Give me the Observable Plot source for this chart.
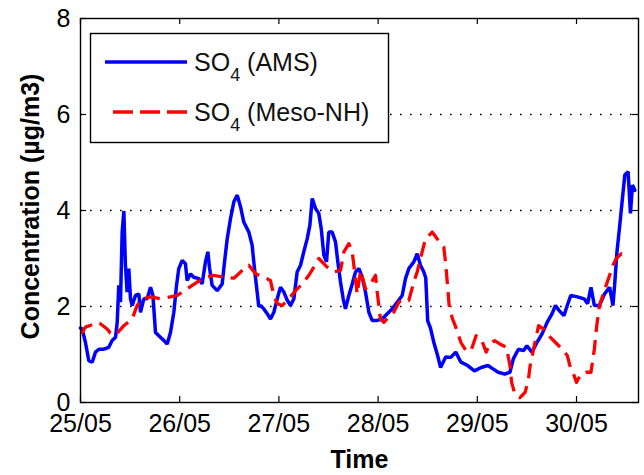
<!DOCTYPE html>
<html>
<head>
<meta charset="utf-8">
<script src="https://cdn.jsdelivr.net/npm/d3@7"></script>
<script src="https://cdn.jsdelivr.net/npm/@observablehq/plot@0.6"></script>
<style>
  html, body { margin: 0; padding: 0; background: white; }
  #wrap { position: relative; width: 644px; height: 475px; overflow: hidden; }
  #legend { position: absolute; left: 0; top: 0; }
</style>
</head>
<body>
<div id="wrap"></div>
<script>
// ---- data (days since 25/05 00:00, concentration µg/m3) ----
const tickDays = [0, 1, 2, 3, 4, 5];
const tickLabels = ["25/05", "26/05", "27/05", "28/05", "29/05", "30/05"];
const yTicks = [0, 2, 4, 6, 8];
const gridValues = [2, 4, 6];

const amsDay = [0.0,0.017,0.05,0.084,0.118,0.151,0.185,0.235,0.285,0.319,0.353,0.37,0.386,0.403,0.42,0.437,0.453,0.47,0.487,0.504,0.521,0.554,0.588,0.605,0.638,0.672,0.706,0.73,0.756,0.79,0.84,0.874,0.907,0.941,0.968,0.991,1.025,1.058,1.075,1.109,1.142,1.193,1.226,1.26,1.284,1.30,1.327,1.378,1.428,1.452,1.479,1.512,1.546,1.58,1.613,1.646,1.697,1.73,1.747,1.764,1.781,1.797,1.815,1.848,1.882,1.915,1.949,1.983,2.016,2.05,2.084,2.117,2.151,2.184,2.218,2.251,2.285,2.312,2.336,2.369,2.402,2.427,2.453,2.48,2.503,2.537,2.571,2.594,2.621,2.648,2.671,2.705,2.739,2.772,2.806,2.84,2.873,2.907,2.94,2.991,3.041,3.092,3.142,3.192,3.243,3.276,3.31,3.36,3.394,3.427,3.461,3.48,3.5,3.528,3.562,3.597,3.63,3.681,3.733,3.783,3.835,3.903,3.971,4.039,4.107,4.158,4.21,4.278,4.329,4.363,4.414,4.465,4.5,4.551,4.601,4.653,4.704,4.754,4.788,4.823,4.873,4.907,4.942,5.01,5.077,5.112,5.146,5.18,5.231,5.282,5.334,5.367,5.384,5.408,5.436,5.463,5.487,5.52,5.544,5.564,5.588];
const amsVal = [1.55,1.53,1.25,0.87,0.84,1.05,1.11,1.11,1.15,1.29,1.36,1.67,2.44,2.09,3.55,3.99,2.86,2.3,2.79,2.16,2.02,2.23,2.26,1.88,2.16,2.16,2.4,2.23,1.46,1.39,1.29,1.22,1.46,1.88,2.44,2.79,2.96,2.89,2.54,2.68,2.61,2.58,2.47,2.93,3.14,2.82,2.44,2.33,2.47,2.93,3.41,3.83,4.18,4.32,4.08,3.76,3.55,3.28,2.93,2.6,2.3,2.0,2.02,1.95,1.85,1.74,1.88,2.16,2.4,2.3,2.13,2.02,2.16,2.72,2.86,3.14,3.41,3.69,4.25,4.04,3.94,3.62,3.07,2.93,3.55,3.55,3.34,2.93,2.51,2.16,1.95,2.23,2.47,2.72,2.79,2.61,2.3,1.88,1.71,1.71,1.74,1.85,1.95,2.09,2.23,2.58,2.79,2.93,3.1,2.86,2.72,2.6,1.7,1.55,1.25,1.0,0.73,0.95,0.94,1.05,0.84,0.77,0.66,0.73,0.77,0.7,0.63,0.59,0.63,0.91,1.11,1.08,1.18,1.05,1.25,1.43,1.67,1.85,2.02,1.92,1.81,2.02,2.23,2.2,2.16,2.06,2.4,2.02,2.02,2.26,2.4,2.02,2.44,3.14,3.69,4.25,4.74,4.81,3.94,4.53,4.42];

const mesoDay = [0.0,0.017,0.05,0.118,0.168,0.2,0.269,0.3,0.353,0.437,0.521,0.571,0.62,0.706,0.806,0.907,0.975,1.075,1.176,1.243,1.344,1.445,1.546,1.63,1.697,1.764,1.848,1.915,1.949,1.983,2.033,2.1,2.167,2.235,2.302,2.352,2.402,2.487,2.554,2.621,2.655,2.705,2.739,2.772,2.789,2.823,2.873,2.923,2.974,2.991,3.024,3.058,3.108,3.158,3.209,3.259,3.31,3.36,3.394,3.444,3.478,3.545,3.595,3.662,3.681,3.7,3.716,3.75,3.783,3.835,3.886,3.936,3.988,4.039,4.09,4.124,4.175,4.226,4.294,4.329,4.346,4.38,4.43,4.482,4.516,4.533,4.567,4.618,4.669,4.72,4.788,4.857,4.907,4.942,4.976,4.999,5.044,5.095,5.146,5.18,5.204,5.231,5.265,5.299,5.334,5.367,5.401,5.452,5.504];
const mesoVal = [1.46,1.46,1.57,1.62,1.67,1.64,1.53,1.45,1.41,1.6,1.74,2.02,2.16,2.2,2.16,2.2,2.23,2.37,2.51,2.59,2.65,2.61,2.59,2.75,2.86,2.68,2.61,2.54,2.23,2.06,2.02,2.16,2.33,2.47,2.65,2.82,3.0,2.82,2.72,2.75,3.14,3.31,3.14,2.58,2.26,2.75,2.37,2.47,2.65,2.3,1.74,1.67,1.78,1.88,2.09,2.16,2.13,2.51,2.72,3.14,3.41,3.55,3.41,3.24,2.9,2.44,2.02,1.74,1.57,1.25,1.08,1.08,1.39,1.32,1.05,1.22,1.29,1.22,1.15,0.77,0.42,0.17,0.1,0.21,0.49,0.77,1.11,1.6,1.53,1.39,1.25,1.11,0.98,0.7,0.56,0.42,0.59,0.63,0.63,1.11,1.6,2.02,2.23,2.44,2.65,2.86,3.0,3.1,3.0];

const seriesNames = ["AMS", "Meso-NH"];
const seriesColors = ["#0000ff", "#ff0000"];

// ---- build ----
const ams = amsDay.map((d, i) => ({d, v: amsVal[i]}));
const meso = mesoDay.map((d, i) => ({d, v: mesoVal[i]}));

const W = 644, H = 475;
const mL = 80, mR = 6, mT = 18, mB = 73;
const innerW = W - mL - mR, innerH = H - mT - mB;

const chart = Plot.plot({
  width: W, height: H,
  marginLeft: mL, marginRight: mR, marginTop: mT, marginBottom: mB,
  style: {fontFamily: "'Liberation Sans', Arial, sans-serif", fontSize: "25px", color: "black", background: "white", overflow: "visible"},
  x: {domain: [0, 5.625], ticks: tickDays, tickFormat: d => tickLabels[d], tickSize: 0, tickPadding: 12, label: null},
  y: {domain: [0, 8], ticks: yTicks, tickSize: 0, tickPadding: 10, label: null},
  marks: [
    Plot.ruleY(gridValues, {stroke: "black", strokeWidth: 1.6, strokeDasharray: "1.6,8.4"}),
    Plot.line(ams, {x: "d", y: "v", stroke: seriesColors[0], strokeWidth: 3.5, strokeLinejoin: "miter"}),
    Plot.line(meso, {x: "d", y: "v", stroke: seriesColors[1], strokeWidth: 3.3, strokeDasharray: "15,8", strokeLinecap: "butt"}),
    Plot.tickX(tickDays, {x: d => d, insetTop: innerH - 6, stroke: "black", strokeWidth: 1.2}),
    Plot.tickX(tickDays, {x: d => d, insetBottom: innerH - 6, stroke: "black", strokeWidth: 1.2}),
    Plot.tickY(yTicks, {y: d => d, insetRight: innerW - 6, stroke: "black", strokeWidth: 1.2}),
    Plot.tickY(yTicks, {y: d => d, insetLeft: innerW - 6, stroke: "black", strokeWidth: 1.2}),
    Plot.frame({stroke: "black", strokeWidth: 1.4}),
    Plot.text(["Time"], {frameAnchor: "bottom", dy: 57, lineAnchor: "middle", textAnchor: "middle", fontWeight: "bold", fontSize: 25}),
    Plot.text(["Concentration (µg/m3)"], {frameAnchor: "left", dx: -50, dy: -4, rotate: -90, textAnchor: "middle", lineAnchor: "middle", fontWeight: "bold", fontSize: 25})
  ]
});
document.getElementById("wrap").appendChild(chart);

// ---- legend (inside the plot area, top-left) ----
const ns = "http://www.w3.org/2000/svg";
const lg = document.createElementNS(ns, "svg");
lg.setAttribute("id", "legend");
lg.setAttribute("width", 400);
lg.setAttribute("height", 150);
lg.style.left = "0px";
lg.style.fontFamily = "'Liberation Sans', Arial, sans-serif";
const box = document.createElementNS(ns, "rect");
box.setAttribute("x", 90.5); box.setAttribute("y", 33.5);
box.setAttribute("width", 298); box.setAttribute("height", 109);
box.setAttribute("fill", "white"); box.setAttribute("stroke", "black"); box.setAttribute("stroke-width", 1.4);
lg.appendChild(box);
const rowsY = [62, 112];
seriesNames.forEach((name, i) => {
  const ln = document.createElementNS(ns, "line");
  ln.setAttribute("x1", i === 0 ? 105 : 113); ln.setAttribute("x2", 187);
  ln.setAttribute("y1", rowsY[i]); ln.setAttribute("y2", rowsY[i]);
  ln.setAttribute("stroke", seriesColors[i]); ln.setAttribute("stroke-width", 3.3);
  if (i === 1) ln.setAttribute("stroke-dasharray", "20,7");
  lg.appendChild(ln);
  const t = document.createElementNS(ns, "text");
  t.setAttribute("x", 194); t.setAttribute("y", rowsY[i] + 8.5);
  t.setAttribute("font-size", 25); t.setAttribute("fill", "#111");
  const a = document.createElementNS(ns, "tspan"); a.textContent = "SO";
  const b = document.createElementNS(ns, "tspan"); b.textContent = "4";
  b.setAttribute("font-size", 18); b.setAttribute("dy", 10);
  const c = document.createElementNS(ns, "tspan"); c.textContent = " (" + name + ")";
  c.setAttribute("dy", -10);
  t.appendChild(a); t.appendChild(b); t.appendChild(c);
  lg.appendChild(t);
});
document.getElementById("wrap").appendChild(lg);
</script>
</body>
</html>
